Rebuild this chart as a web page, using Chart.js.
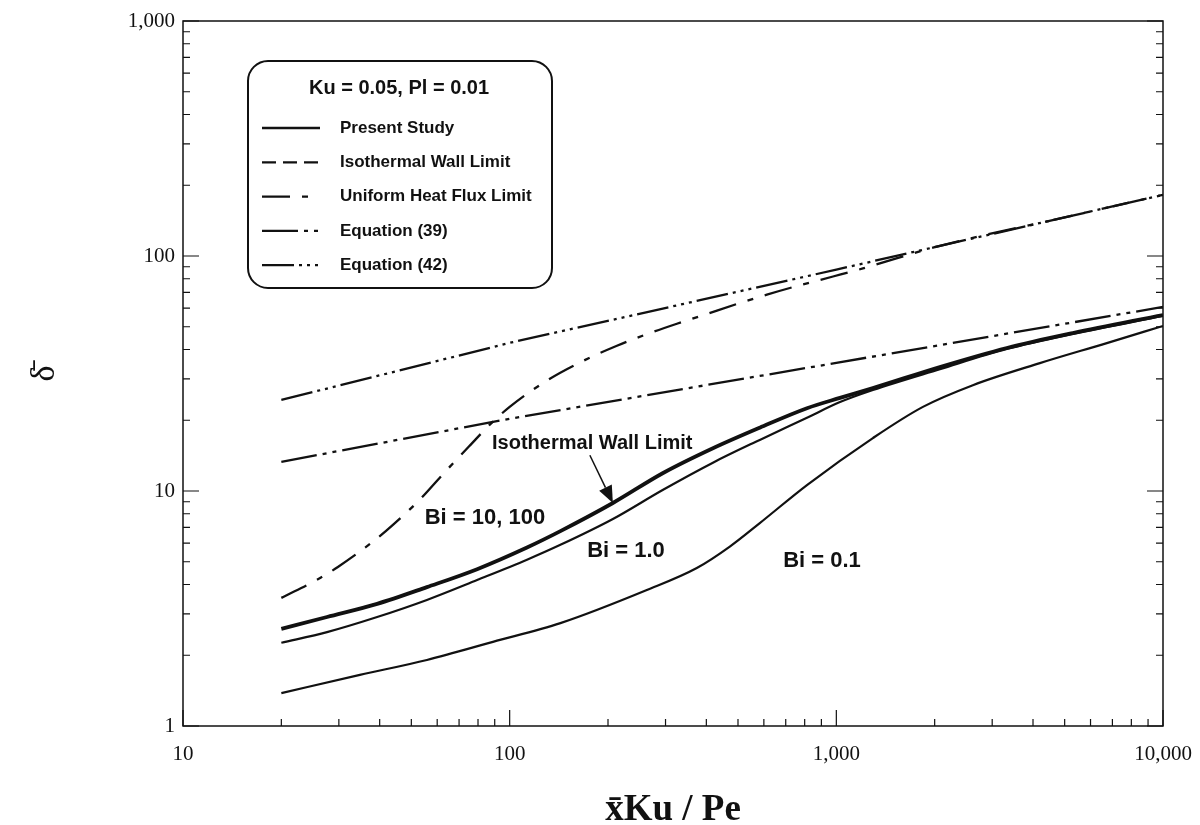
<!DOCTYPE html>
<html lang="en">
<head>
<meta charset="UTF-8">
<title>Film thickness vs xKu/Pe</title>
<script src="https://cdn.jsdelivr.net/npm/chart.js"></script>
<style>
  body { margin: 0; background: #fff; }
  #wrap { width: 1200px; height: 825px; }
</style>
</head>
<body>
<div id="wrap"><canvas id="chart" width="1200" height="825"></canvas></div>
<script>
// Present study, Bi = 10 and 100 (same curve as the isothermal wall limit)
const bi100X = [20, 27.6, 39.3, 55.8, 79.5, 113, 143, 207, 294, 419, 583, 813, 1026, 1294, 2075, 3326, 5297, 10000];
const bi100Y = [2.59, 2.91, 3.31, 3.9, 4.65, 5.75, 6.75, 8.89, 11.9, 15.2, 18.6, 22.5, 24.9, 27.4, 33.7, 40.6, 47.0, 56.1];

// Present study, Bi = 1.0
const bi1X = [20, 27.6, 39.3, 55.8, 79.5, 113, 143, 207, 294, 419, 583, 813, 1026, 1294, 2075, 3326, 5297, 10000];
const bi1Y = [2.26, 2.51, 2.91, 3.44, 4.18, 5.1, 5.9, 7.6, 10.1, 13.2, 16.5, 20.5, 23.9, 26.9, 33.0, 40.2, 46.6, 55.6];

// Present study, Bi = 0.1
const bi01X = [20, 34.8, 55.8, 88.9, 143, 263, 374, 472, 583, 813, 1294, 1841, 2618, 4199, 6730, 10000];
const bi01Y = [1.38, 1.65, 1.91, 2.28, 2.74, 3.79, 4.70, 5.8, 7.3, 10.6, 16.8, 22.8, 28.2, 35.0, 42.6, 50.4];

// Uniform heat flux limit
const fluxX = [20, 26.2, 29.8, 38.2, 44, 53.1, 62.5, 75.5, 87.1, 100, 130, 168, 213, 263, 325, 391, 496, 613, 757, 977, 1206, 1359, 2000, 5000, 10000];
const fluxY = [3.51, 4.25, 4.75, 6.1, 7.2, 9.2, 11.8, 15.6, 19.2, 22.8, 29.5, 35.8, 41.5, 46.5, 51.5, 56, 62.5, 68.5, 74.5, 81.8, 88.5, 93, 109, 146, 182];

// Equation (39) and Equation (42)
const eq39X = [20, 100, 1000, 10000];
const eq39Y = [13.3, 20.3, 35.1, 60.7];
const eq42X = [20, 100, 1000, 10000];
const eq42Y = [24.4, 42.7, 87.5, 182];

// axis decades (labelled ticks)
const xDecades = [10, 100, 1000, 10000];
const yDecades = [1, 10, 100, 1000];

const legendTitle = 'Ku = 0.05, Pl = 0.01';
const legendLabels = ['Present Study', 'Isothermal Wall Limit', 'Uniform Heat Flux Limit', 'Equation (39)', 'Equation (42)'];

const INK = '#111';
const dashFlux = [28, 12, 6, 12];
const dash39 = [36, 6, 4, 6, 4, 6];
const dash42 = [32, 5, 3, 5, 3, 5, 3, 5];
const dashIso = [14, 7];
const legendDashes = [[], dashIso, dashFlux, dash39, dash42];

function pts(xs, ys) { return xs.map((v, i) => ({ x: v, y: ys[i] })); }
function minorTicks(decades) {
    const out = [];
    decades.forEach((d, i) => {
        if (i === decades.length - 1) { out.push(d); return; }
        for (let m = 1; m < 10; m++) out.push(d * m);
    });
    return out;
}
function isDecade(v) {
    const l = Math.log10(v);
    return Math.abs(l - Math.round(l)) < 1e-9;
}

function curve(xs, ys, width, dash, smooth) {
    return {
        data: pts(xs, ys),
        borderColor: INK,
        borderWidth: width,
        borderDash: dash,
        pointRadius: 0,
        fill: false,
        cubicInterpolationMode: smooth ? 'monotone' : 'default',
        tension: 0
    };
}

// annotations placed in data coordinates
const notes = [
    { text: 'Isothermal Wall Limit', x: 179, y: 16.0, size: 20 },
    { text: 'Bi = 10, 100', x: 84, y: 7.67, size: 22 },
    { text: 'Bi = 1.0', x: 227, y: 5.56, size: 22 },
    { text: 'Bi = 0.1', x: 904, y: 5.04, size: 22 }
];
const arrowFrom = { x: 176, y: 14.2 };
const arrowTo = { x: 207, y: 8.9 };

const framePlugin = {
    id: 'frame',
    afterDraw(chart) {
        const { ctx, chartArea: a, scales: { x, y } } = chart;
        ctx.save();
        ctx.strokeStyle = INK;
        ctx.lineWidth = 1.5;
        ctx.strokeRect(a.left, a.top, a.right - a.left, a.bottom - a.top);
        ctx.lineWidth = 1.2;
        ctx.beginPath();
        x.ticks.forEach(t => {
            const px = x.getPixelForValue(t.value);
            const len = isDecade(t.value) ? 16 : 7;
            ctx.moveTo(px, a.bottom);
            ctx.lineTo(px, a.bottom - len);
        });
        y.ticks.forEach(t => {
            const py = y.getPixelForValue(t.value);
            const len = isDecade(t.value) ? 16 : 7;
            ctx.moveTo(a.left, py);
            ctx.lineTo(a.left + len, py);
            ctx.moveTo(a.right, py);
            ctx.lineTo(a.right - len, py);
        });
        ctx.stroke();

        // text annotations
        ctx.fillStyle = INK;
        ctx.textAlign = 'center';
        ctx.textBaseline = 'middle';
        notes.forEach(n => {
            ctx.font = 'bold ' + n.size + 'px "Liberation Sans", Arial, sans-serif';
            ctx.fillText(n.text, x.getPixelForValue(n.x), y.getPixelForValue(n.y));
        });

        // arrow pointing to the isothermal curve
        const x0 = x.getPixelForValue(arrowFrom.x), y0 = y.getPixelForValue(arrowFrom.y);
        const x1 = x.getPixelForValue(arrowTo.x), y1 = y.getPixelForValue(arrowTo.y);
        const ang = Math.atan2(y1 - y0, x1 - x0);
        const hl = 17, hw = 7;
        const bx = x1 - hl * Math.cos(ang), by = y1 - hl * Math.sin(ang);
        ctx.lineWidth = 1.5;
        ctx.beginPath();
        ctx.moveTo(x0, y0);
        ctx.lineTo(bx, by);
        ctx.stroke();
        ctx.beginPath();
        ctx.moveTo(x1, y1);
        ctx.lineTo(bx + hw * Math.sin(ang), by - hw * Math.cos(ang));
        ctx.lineTo(bx - hw * Math.sin(ang), by + hw * Math.cos(ang));
        ctx.closePath();
        ctx.fill();

        // legend box
        ctx.lineWidth = 2;
        ctx.beginPath();
        ctx.roundRect(248, 61, 304, 227, 20);
        ctx.stroke();
        ctx.font = 'bold 20px "Liberation Sans", Arial, sans-serif';
        ctx.fillText(legendTitle, 399, 88);
        ctx.textAlign = 'left';
        ctx.font = 'bold 17px "Liberation Sans", Arial, sans-serif';
        legendLabels.forEach((lab, i) => {
            const ry = 128 + i * 34.3;
            ctx.save();
            ctx.lineWidth = i === 0 ? 2.5 : 2.3;
            ctx.setLineDash(legendDashes[i]);
            ctx.beginPath();
            ctx.moveTo(262, ry);
            ctx.lineTo(320, ry);
            ctx.stroke();
            ctx.restore();
            ctx.fillText(lab, 340, ry);
        });
        ctx.restore();
    }
};

new Chart(document.getElementById('chart'), {
    type: 'line',
    data: {
        datasets: [
            curve(eq42X, eq42Y, 2.3, dash42, false),
            curve(eq39X, eq39Y, 2.3, dash39, false),
            curve(fluxX, fluxY, 2.3, dashFlux, true),
            curve(bi01X, bi01Y, 2.2, [], true),
            curve(bi1X, bi1Y, 2.2, [], true),
            curve(bi100X, bi100Y, 3.8, [], true)
        ]
    },
    options: {
        responsive: false,
        animation: false,
        devicePixelRatio: 1,
        layout: { padding: { top: 21, right: 37, bottom: 0, left: 0 } },
        plugins: { legend: { display: false }, tooltip: { enabled: false } },
        scales: {
            x: {
                type: 'logarithmic',
                min: 10,
                max: 10000,
                afterBuildTicks: s => { s.ticks = minorTicks(xDecades).map(v => ({ value: v })); },
                afterFit: s => { s.height = 99; s.paddingLeft = 0; s.paddingRight = 0; },
                grid: { display: false, drawTicks: false },
                border: { display: false },
                ticks: {
                    autoSkip: false,
                    maxRotation: 0,
                    padding: 16,
                    color: INK,
                    font: { family: '"Liberation Serif", "Times New Roman", serif', size: 21 },
                    callback: v => isDecade(v) ? v.toLocaleString('en-US') : ''
                },
                title: {
                    display: true,
                    text: 'x\u0304Ku / Pe',
                    color: INK,
                    font: { family: '"Liberation Serif", "Times New Roman", serif', size: 37, weight: 'bold', lineHeight: 0.8 },
                    padding: { top: 0, bottom: 0 }
                }
            },
            y: {
                type: 'logarithmic',
                min: 1,
                max: 1000,
                afterBuildTicks: s => { s.ticks = minorTicks(yDecades).map(v => ({ value: v })); },
                afterFit: s => { s.width = 183; s.paddingTop = 0; s.paddingBottom = 0; },
                grid: { display: false, drawTicks: false },
                border: { display: false },
                ticks: {
                    autoSkip: false,
                    padding: 8,
                    color: INK,
                    font: { family: '"Liberation Serif", "Times New Roman", serif', size: 21 },
                    callback: v => isDecade(v) ? v.toLocaleString('en-US') : ''
                },
                title: {
                    display: true,
                    text: '\u03b4\u0304',
                    color: INK,
                    font: { family: '"Liberation Serif", "Times New Roman", serif', size: 34 },
                    padding: { top: 25, bottom: 0 }
                }
            }
        }
    },
    plugins: [framePlugin]
});
</script>
</body>
</html>
